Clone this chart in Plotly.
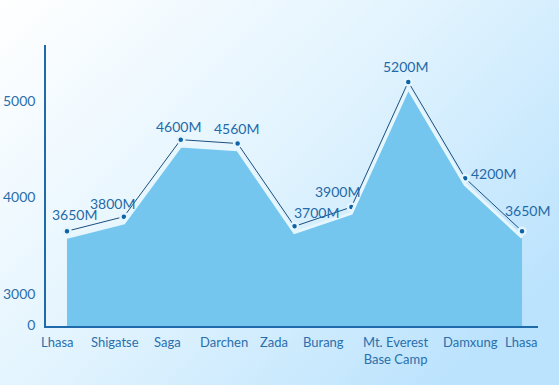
import base64
import plotly.graph_objects as go

# ---- data ----
stops = ["Lhasa", "Shigatse", "Saga", "Darchen", "Zada", "Burang",
         "Mt. Everest<br>Base Camp", "Damxung", "Lhasa"]
altitudes = [3650, 3800, 4600, 4560, 3700, 3900, 5200, 4200, 3650]
y_tick_vals = [2670, 3000, 4000, 5000]
y_tick_text = ["0", "3000", "4000", "5000"]

idx = list(range(len(stops)))
labels = [f"{v}M" for v in altitudes]

# pixel offsets (style only)
label_shift = [(8, 17), (-11, 13), (-2, 13), (-1, 15), (22, 14),
               (-14, 16), (-3, 15), (28, 5), (5, 21)]
stop_label_shift = [-10, -9, -13, -14, -21, -28, -13, 5, -1]

Y_RANGE = [2665, 5583]
AREA_OFFSET = 65  # shifts the area a few pixels lower (shadow effect)
FONT = "Lato"

fig = go.Figure()

# shaded area (drawn on a shifted overlay axis)
fig.add_trace(go.Scatter(
    x=idx, y=altitudes, yaxis="y2", mode="lines",
    line=dict(color="#e6f6fe", width=3),
    fill="tozeroy", fillcolor="#74c6ef",
    hoverinfo="skip", showlegend=False,
))

# main line + markers
fig.add_trace(go.Scatter(
    x=idx, y=altitudes, mode="lines+markers",
    line=dict(color="#1b4f7e", width=1),
    marker=dict(color="#0c63a6", size=7,
                line=dict(color="#e4f4fd", width=2.5)),
    showlegend=False,
))

annotations = []
for i, (t, (dx, dy)) in enumerate(zip(labels, label_shift)):
    annotations.append(dict(
        x=idx[i], y=altitudes[i], xref="x", yref="y", text=t,
        showarrow=False, xshift=dx, yshift=dy,
        font=dict(family=FONT, size=14, color="#1f6aa8"),
    ))
# category labels along the x axis
for i, (s, dx) in enumerate(zip(stops, stop_label_shift)):
    annotations.append(dict(
        x=idx[i], y=0, xref="x", yref="paper", text=s,
        showarrow=False, xshift=dx, yshift=-6, yanchor="top",
        align="center",
        font=dict(family=FONT, size=13, color="#2a6fac"),
    ))

svg = ("<svg xmlns='http://www.w3.org/2000/svg' width='559' height='385' "
       "preserveAspectRatio='none'><defs><linearGradient id='g' x1='0' y1='0' "
       "x2='1' y2='0.7'><stop offset='0' stop-color='#ffffff'/>"
       "<stop offset='0.5' stop-color='#e3f4fe'/>"
       "<stop offset='1' stop-color='#bce3fd'/></linearGradient></defs>"
       "<rect width='559' height='385' fill='url(#g)'/></svg>")
src = "data:image/svg+xml;base64," + base64.b64encode(svg.encode()).decode()

L, R, T, B = 46, 21, 45, 59
W, H = 559, 385
pw, ph = W - L - R, H - T - B

fig.update_layout(
    width=W, height=H,
    margin=dict(l=L, r=R, t=T, b=B),
    paper_bgcolor="#eaf6fe",
    plot_bgcolor="rgba(0,0,0,0)",
    images=[dict(source=src, xref="paper", yref="paper",
                 x=-L / pw, y=1 + T / ph, sizex=W / pw, sizey=H / ph,
                 xanchor="left", yanchor="top", sizing="stretch",
                 layer="below")],
    xaxis=dict(
        range=[-0.369, 8.281], tickvals=idx, showticklabels=False,
        showgrid=False, zeroline=False, showline=True,
        linecolor="#1e6aab", linewidth=1.5, ticks="",
        automargin=False,
    ),
    yaxis=dict(
        range=Y_RANGE, tickvals=y_tick_vals, ticktext=y_tick_text,
        showgrid=False, zeroline=False, showline=True, automargin=False,
        linecolor="#1e6aab", linewidth=1.5, ticks="", ticklabelstandoff=6,
        tickfont=dict(family=FONT, size=14, color="#2a6fac"),
    ),
    yaxis2=dict(
        range=[Y_RANGE[0] + AREA_OFFSET, Y_RANGE[1] + AREA_OFFSET],
        overlaying="y", visible=False,
    ),
    annotations=annotations,
)

fig.write_html("out.html", config={"displayModeBar": False},
               post_script="document.body.style.margin='0';")
